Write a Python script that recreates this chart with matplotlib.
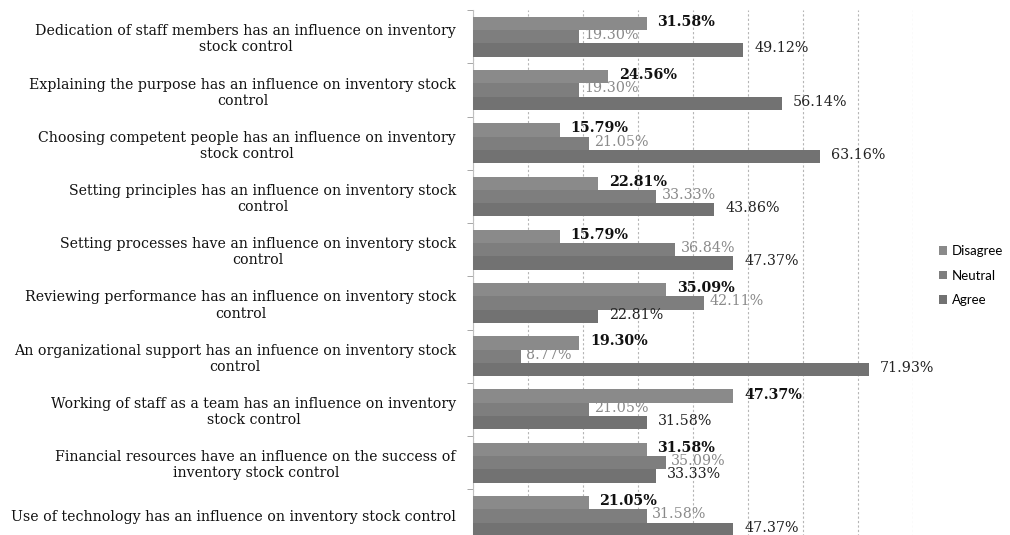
import matplotlib
matplotlib.use("Agg")
import matplotlib.pyplot as plt
import numpy as np

categories = [
    "Dedication of staff members has an influence on inventory\nstock control",
    "Explaining the purpose has an influence on inventory stock\ncontrol",
    "Choosing competent people has an influence on inventory\nstock control",
    "Setting principles has an influence on inventory stock\ncontrol",
    "Setting processes have an influence on inventory stock\ncontrol",
    "Reviewing performance has an influence on inventory stock\ncontrol",
    "An organizational support has an infuence on inventory stock\ncontrol",
    "Working of staff as a team has an influence on inventory\nstock control",
    "Financial resources have an influence on the success of\ninventory stock control",
    "Use of technology has an influence on inventory stock control",
]
disagree = [31.58, 24.56, 15.79, 22.81, 15.79, 35.09, 19.30, 47.37, 31.58, 21.05]
neutral = [19.30, 19.30, 21.05, 33.33, 36.84, 42.11, 8.77, 21.05, 35.09, 31.58]
agree = [49.12, 56.14, 63.16, 43.86, 47.37, 22.81, 71.93, 31.58, 33.33, 47.37]
series_names = ["Disagree", "Neutral", "Agree"]

colors = ["#8a8a8a", "#7e7e7e", "#727272"]
label_colors = ["#111111", "#8a8a8a", "#222222"]
label_weights = ["bold", "normal", "normal"]
label_offsets = [2.0, 1.0, 2.0]

fig = plt.figure(figsize=(10.10, 5.35), dpi=100)
ax = fig.add_axes([0.468, -0.014, 0.436, 0.995])

n = len(categories)
y = np.arange(n)
h = 0.25
offsets = [-h, 0, h]
allvals = [disagree, neutral, agree]

for k, (vals, name) in enumerate(zip(allvals, series_names)):
    ypos = y + offsets[k]
    ax.barh(ypos, vals, height=h, color=colors[k], label=name, zorder=3,
            edgecolor="none")
    for yy, v in zip(ypos, vals):
        ax.text(v + label_offsets[k], yy - 0.03, f"{v:.2f}%", va="center", ha="left",
                fontsize=10.3, family="DejaVu Serif", weight=label_weights[k],
                color=label_colors[k], zorder=4)

ax.set_ylim(n - 0.5, -0.5)
ax.set_xlim(0, 80)
ax.set_xticks(np.arange(0, 81, 10))
ax.tick_params(axis="x", length=0, labelbottom=False)
ax.grid(axis="x", color="#b5b5b5", linestyle=(0, (2, 2)), linewidth=0.8, zorder=0)

ax.set_yticks(y)
ax.set_yticklabels(categories, fontsize=10.2, family="DejaVu Serif",
                   multialignment="center", color="#111111")
ax.tick_params(axis="y", length=0, pad=12)
ax.set_yticks(np.arange(-0.5, n, 1), minor=True)
ax.tick_params(axis="y", which="minor", length=4, color="#999999")

for s in ["top", "right", "bottom"]:
    ax.spines[s].set_visible(False)
ax.spines["left"].set_color("#c0c0c0")
ax.spines["left"].set_linewidth(0.8)

leg = fig.legend(loc="center left", bbox_to_anchor=(0.918, 0.485), frameon=False,
                 prop={"family": "Lato", "size": 9.5}, handlelength=0.6,
                 handleheight=0.6, handletextpad=0.4, labelspacing=0.95)

fig.savefig("out.png", dpi=100)
